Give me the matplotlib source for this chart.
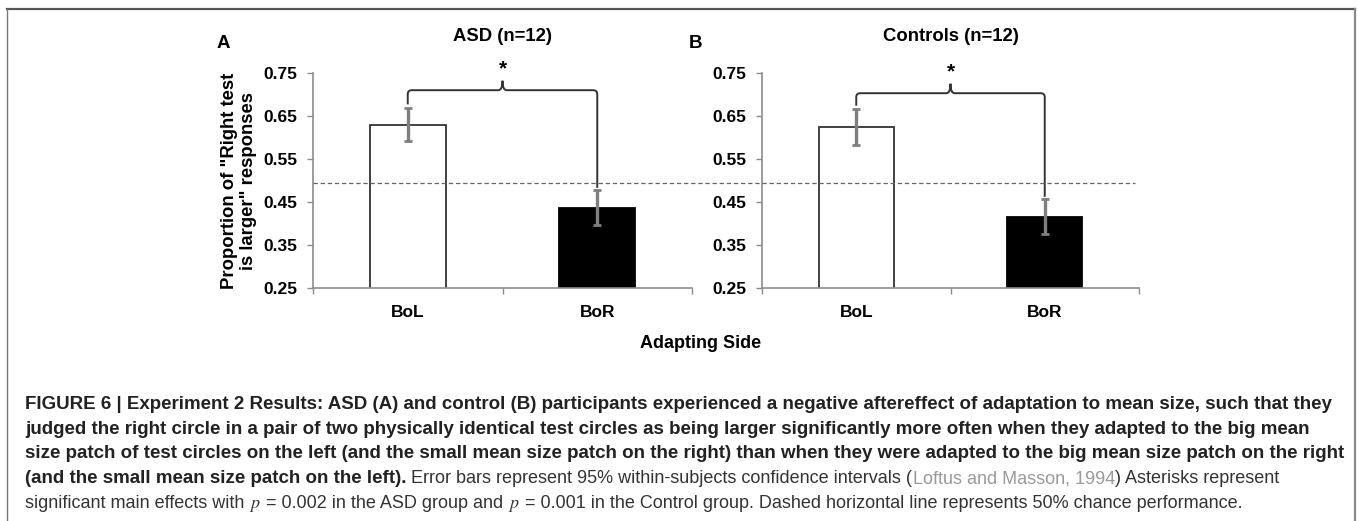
# Experiment 2 results: ASD vs controls, adaptation to mean size

import matplotlib
matplotlib.use('Agg')
import matplotlib.pyplot as plt
from matplotlib.path import Path
from matplotlib.patches import PathPatch
from matplotlib.lines import Line2D
from matplotlib import transforms

plt.rcParams['font.family'] = ['Liberation Sans', 'DejaVu Sans']
plt.rcParams['mathtext.fontset'] = 'stix'

# Data
categories = ['BoL', 'BoR']
panel_letters = ['A', 'B']
panel_titles = ['ASD (n=12)', 'Controls (n=12)']
asd_means = [0.630, 0.437]
asd_errors = [0.039, 0.040]
control_means = [0.624, 0.416]
control_errors = [0.042, 0.040]
bracket_levels = [0.710, 0.703]
chance_level = 0.495
yticks = [0.25, 0.35, 0.45, 0.55, 0.65, 0.75]
bar_colors = ['white', 'black']

caption_lines = [
    [("FIGURE 6 | Experiment 2 Results: ASD (A) and control (B) participants experienced a negative "
      "aftereffect of adaptation to mean size, such that they", 'bold')],
    [("judged the right circle in a pair of two physically identical test circles as being larger "
      "significantly more often when they adapted to the big mean", 'bold')],
    [("size patch of test circles on the left (and the small mean size patch on the right) than when "
      "they were adapted to the big mean size patch on the right", 'bold')],
    [("(and the small mean size patch on the left). ", 'bold'),
     ("Error bars represent 95% within-subjects confidence intervals (", 'normal'),
     ("Loftus and Masson, 1994", 'link'),
     (") Asterisks represent", 'normal')],
    [("significant main effects with ", 'normal'), ("$p$", 'math'),
     (" = 0.002 in the ASD group and ", 'normal'), ("$p$", 'math'),
     (" = 0.001 in the Control group. Dashed horizontal line represents 50% chance performance.", 'normal')],
]

W, H = 1358, 521
fig = plt.figure(figsize=(W / 100, H / 100), dpi=100)
ax_a = fig.add_axes([313 / W, 1 - 288 / H, 379 / W, 215 / H])
ax_b = fig.add_axes([762 / W, 1 - 288 / H, 377 / W, 215 / H])

axis_grey = '#8c8c8c'
x = [0.5, 1.5]


def brace(ax, y_left, y_right, level):
    # curly bracket joining the two bars, in data units
    x0, x1, xm = x[0], x[1], (x[0] + x[1]) / 2
    rx, ry, tip = 0.022, 0.009, 0.022
    verts = [(x0, y_left), (x0, level - ry), (x0, level), (x0 + rx, level),
             (xm - rx, level), (xm, level), (xm, level + tip),
             (xm, level), (xm + rx, level),
             (x1 - rx, level), (x1, level), (x1, level - ry), (x1, y_right)]
    codes = [Path.MOVETO, Path.LINETO, Path.CURVE3, Path.CURVE3,
             Path.LINETO, Path.CURVE3, Path.CURVE3,
             Path.CURVE3, Path.CURVE3,
             Path.LINETO, Path.CURVE3, Path.CURVE3, Path.LINETO]
    ax.add_patch(PathPatch(Path(verts, codes), facecolor='none', edgecolor='#333333',
                           lw=1.4, clip_on=False))
    ax.text(xm, level + tip + 0.006, '*', ha='center', va='bottom', fontsize=15,
            fontweight='bold', clip_on=False)


for ax, means, errs, title, level in [(ax_a, asd_means, asd_errors, panel_titles[0], bracket_levels[0]),
                                      (ax_b, control_means, control_errors, panel_titles[1], bracket_levels[1])]:
    ax.bar(x, means, width=0.4, color=bar_colors, edgecolor=['#333333', 'black'], linewidth=1.3, zorder=2)
    ax.errorbar(x, means, yerr=errs, fmt='none', ecolor='#7f7f7f', elinewidth=2.4,
                capsize=3, capthick=2, zorder=3)
    brace(ax, means[0] + errs[0] + 0.008, means[1] + errs[1] + 0.006, level)

    ax.set_xlim(0, 2)
    ax.set_ylim(0.25, 0.75)
    ax.set_yticks(yticks)
    ax.set_yticklabels([f'{t:.2f}' for t in yticks])
    ax.set_xticks([0, 1, 2])
    ax.set_xticklabels([])
    ax.set_xticks(x, minor=True)
    ax.set_xticklabels(categories, minor=True)
    ax.tick_params(axis='x', which='minor', length=0, pad=12)
    ax.tick_params(axis='x', which='major', length=4, color=axis_grey, width=1)
    ax.tick_params(axis='y', length=4, color=axis_grey, width=1, pad=7)
    for lab in ax.get_yticklabels() + ax.get_xticklabels(minor=True):
        lab.set_fontweight('bold')
        lab.set_fontsize(12.5)
    for side in ['top', 'right']:
        ax.spines[side].set_visible(False)
    for side in ['left', 'bottom']:
        ax.spines[side].set_color(axis_grey)
        ax.spines[side].set_linewidth(1.2)
    ax.set_title(title, fontweight='bold', fontsize=13.3, pad=23)

ax_a.set_ylabel('Proportion of "Right test\nis larger" responses', fontweight='bold',
                fontsize=13.3, labelpad=5, linespacing=1.1)

fig.text(223 / W, 1 - 43 / H, panel_letters[0], fontsize=13.5, fontweight='bold', ha='center', va='center')
fig.text(695 / W, 1 - 43 / H, panel_letters[1], fontsize=13.5, fontweight='bold', ha='center', va='center')
fig.text(701 / W, 1 - 344 / H, 'Adapting Side', fontsize=13, fontweight='bold', ha='center', va='center')

# chance line running across both panels
pos_a, pos_b = ax_a.get_position(), ax_b.get_position()
trans = transforms.blended_transform_factory(fig.transFigure, ax_a.transData)
fig.add_artist(Line2D([pos_a.x0, pos_b.x1 - 0.003], [chance_level, chance_level], transform=trans,
                      color='#666666', lw=0.9, linestyle=(0, (3.5, 2.2))))

# frame around the figure
fig.add_artist(Line2D([7 / W, 1355 / W], [1 - 9 / H, 1 - 9 / H], color='#555555', lw=1.6))
fig.add_artist(Line2D([7 / W, 7 / W], [0, 1 - 9 / H], color='#777777', lw=1.0))
fig.add_artist(Line2D([1355 / W, 1355 / W], [0, 1 - 9 / H], color='#888888', lw=1.6))

# caption with mixed styles
renderer = fig.canvas.get_renderer()
styles = {
    'bold': dict(fontweight='bold', color='#222222', fontsize=13.5),
    'normal': dict(color='#333333', fontsize=13.0),
    'link': dict(color='#9a9a9a', fontsize=13.0),
    'math': dict(color='#333333', fontsize=13.0),
}


def width_of(s, kw):
    t = fig.text(0, 0, s, **kw)
    w = t.get_window_extent(renderer).width
    t.remove()
    return w


space_w = width_of('a a', styles['normal']) - width_of('aa', styles['normal'])
line_y = [404, 429, 453, 478, 503]
for segs, yc in zip(caption_lines, line_y):
    xp = 25
    for s, kind in segs:
        if s.startswith(' '):
            xp += space_w
        core = s.strip()
        t = fig.text(xp / W, 1 - (yc + 5) / H, core, va='baseline', **styles[kind])
        xp = t.get_window_extent(renderer).x1
        if s.endswith(' '):
            xp += space_w

fig.savefig('out.png', dpi=100)
